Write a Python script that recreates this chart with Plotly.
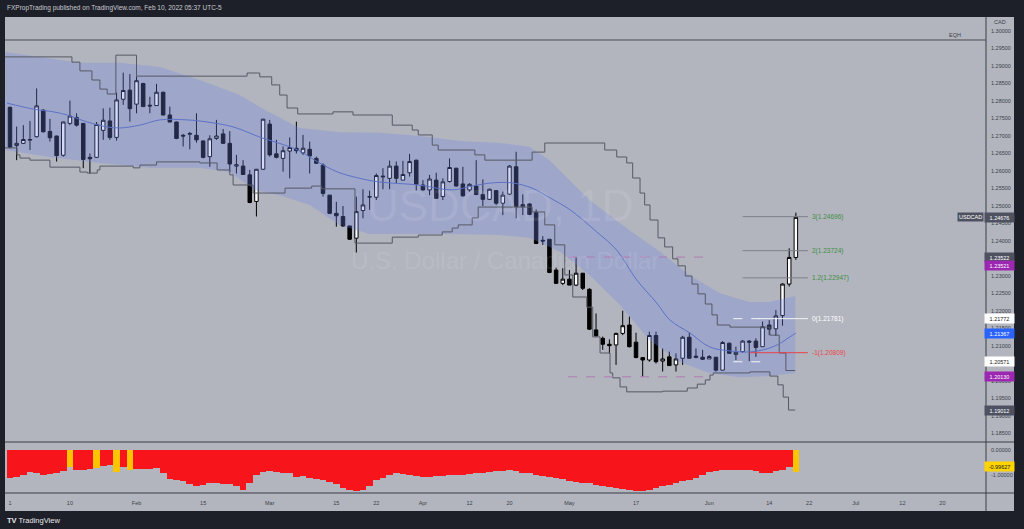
import plotly.graph_objects as go

# ---------------- DATA ----------------
bar_idx = list(range(119))
open_ = [1.2782,1.2673,1.2679,1.2688,1.2698,1.2774,1.2713,1.2700,1.2645,1.2736,
         1.2753,1.2736,1.2639,1.2639,1.2716,1.2743,1.2696,1.2805,1.2831,1.2791,
         1.2850,1.2788,1.2787,1.2825,1.2760,1.2740,1.2702,1.2705,1.2702,1.2686,
         1.2641,1.2693,1.2706,1.2679,1.2614,1.2614,1.2589,1.2513,1.2605,1.2734,
         1.2649,1.2636,1.2657,1.2665,1.2652,1.2662,1.2636,1.2617,1.2531,1.2479,
         1.2470,1.2443,1.2408,1.2487,1.2525,1.2525,1.2583,1.2579,1.2614,1.2574,
         1.2595,1.2631,1.2560,1.2546,1.2574,1.2527,1.2570,1.2608,1.2563,1.2546,
         1.2557,1.2533,1.2519,1.2544,1.2508,1.2534,1.2612,1.2498,1.2506,1.2482,
         1.2402,1.2405,1.2317,1.2279,1.2291,1.2274,1.2308,1.2262,1.2146,1.2122,
         1.2105,1.2103,1.2136,1.2160,1.2111,1.2067,1.2060,1.2130,1.2057,1.2069,
         1.2046,1.2065,1.2125,1.2067,1.2068,1.2063,1.2068,1.2031,1.2108,1.2076,
         1.2084,1.2114,1.2114,1.2098,1.2160,1.2149,1.2187,1.2277,1.2353]
high = [1.2784,1.2727,1.2731,1.2743,1.2836,1.2776,1.2749,1.2701,1.2741,1.2801,
        1.2765,1.2737,1.2650,1.2740,1.2779,1.2781,1.2824,1.2881,1.2877,1.2870,
        1.2852,1.2812,1.2849,1.2827,1.2784,1.2741,1.2706,1.2712,1.2765,1.2687,
        1.2702,1.2746,1.2720,1.2714,1.2646,1.2631,1.2603,1.2606,1.2749,1.2746,
        1.2689,1.2670,1.2696,1.2741,1.2703,1.2684,1.2641,1.2622,1.2532,1.2512,
        1.2500,1.2443,1.2527,1.2548,1.2544,1.2593,1.2608,1.2630,1.2627,1.2629,
        1.2649,1.2632,1.2574,1.2589,1.2595,1.2579,1.2636,1.2609,1.2612,1.2565,
        1.2631,1.2576,1.2549,1.2545,1.2541,1.2617,1.2655,1.2533,1.2507,1.2490,
        1.2414,1.2405,1.2324,1.2322,1.2317,1.2353,1.2308,1.2265,1.2193,1.2127,
        1.2119,1.2138,1.2201,1.2184,1.2138,1.2067,1.2141,1.2141,1.2093,1.2084,
        1.2079,1.2129,1.2138,1.2093,1.2089,1.2074,1.2068,1.2114,1.2110,1.2098,
        1.2117,1.2117,1.2122,1.2170,1.2174,1.2203,1.2279,1.2379,1.2481]
low = [1.2665,1.2631,1.2677,1.2660,1.2696,1.2710,1.2684,1.2627,1.2641,1.2731,
       1.2727,1.2608,1.2593,1.2638,1.2689,1.2689,1.2687,1.2789,1.2741,1.2765,
       1.2783,1.2765,1.2786,1.2759,1.2739,1.2691,1.2670,1.2662,1.2681,1.2636,
       1.2612,1.2689,1.2678,1.2598,1.2593,1.2589,1.2508,1.2470,1.2603,1.2641,
       1.2636,1.2598,1.2579,1.2650,1.2646,1.2593,1.2620,1.2527,1.2477,1.2441,
       1.2441,1.2403,1.2367,1.2465,1.2489,1.2517,1.2548,1.2548,1.2565,1.2574,
       1.2584,1.2544,1.2544,1.2531,1.2521,1.2517,1.2567,1.2556,1.2527,1.2541,
       1.2531,1.2500,1.2517,1.2503,1.2474,1.2531,1.2465,1.2474,1.2474,1.2391,
       1.2389,1.2308,1.2277,1.2274,1.2274,1.2271,1.2260,1.2146,1.2127,1.2089,
       1.2079,1.2046,1.2131,1.2096,1.2065,1.2012,1.2055,1.2050,1.2027,1.2044,
       1.2027,1.2046,1.2065,1.2065,1.2060,1.2063,1.2027,1.2030,1.2079,1.2060,
       1.2081,1.2057,1.2069,1.2098,1.2131,1.2129,1.2158,1.2270,1.2346]
close = [1.2668,1.2679,1.2690,1.2690,1.2786,1.2712,1.2695,1.2644,1.2740,1.2757,
         1.2731,1.2633,1.2635,1.2733,1.2745,1.2696,1.2803,1.2830,1.2778,1.2858,
         1.2784,1.2786,1.2825,1.2760,1.2740,1.2693,1.2700,1.2707,1.2689,1.2639,
         1.2692,1.2700,1.2679,1.2620,1.2618,1.2590,1.2510,1.2605,1.2748,1.2646,
         1.2639,1.2658,1.2667,1.2658,1.2665,1.2643,1.2622,1.2536,1.2479,1.2472,
         1.2443,1.2405,1.2484,1.2503,1.2527,1.2587,1.2585,1.2614,1.2579,1.2590,
         1.2627,1.2562,1.2546,1.2577,1.2522,1.2569,1.2610,1.2557,1.2529,1.2562,
         1.2533,1.2519,1.2548,1.2508,1.2531,1.2614,1.2498,1.2504,1.2476,1.2393,
         1.2400,1.2310,1.2279,1.2291,1.2274,1.2308,1.2265,1.2148,1.2129,1.2105,
         1.2101,1.2136,1.2158,1.2098,1.2067,1.2060,1.2130,1.2055,1.2063,1.2044,
         1.2063,1.2125,1.2065,1.2071,1.2062,1.2070,1.2031,1.2110,1.2079,1.2082,
         1.2114,1.2111,1.2096,1.2155,1.2148,1.2186,1.2277,1.2353,1.24676]

# moving average (traced)
ma_x = [-0.45,3.5,6.5,8.6,11.6,14.6,16.5,19.5,22.5,26.6,29.6,33.5,37.5,43.2,46.2,49.2,52.3,55.3,
        61.3,66.4,69.4,72.4,75.4,78.4,81.1,84.1,88.1,91.1,94.1,97.1,99.1,102.1,105.1,108.1,
        111.1,113.1,115.2,117.1,118]
ma_val = [1.2794,1.2777,1.2769,1.2760,1.2740,1.2726,1.2723,1.2731,1.2746,1.2746,1.2740,1.2726,
          1.2697,1.2660,1.2626,1.2597,1.2580,1.2569,1.2560,1.2546,1.2557,1.2566,1.2566,1.2551,
          1.2523,1.2489,1.2426,1.2374,1.2289,1.2223,1.2174,1.2137,1.2097,1.2086,1.2083,1.2089,
          1.2103,1.2126,1.2137]

# band envelope (traced)
band_up_x = [-0.75,4.5,10.5,16.5,22.5,28.5,34.5,38.3,43.5,49.5,55.5,61.5,67.6,73.6,78,81,84,87,
             90,93,97.6,102,106.6,111,114,117.9]
band_up = [1.2940,1.2926,1.2909,1.2909,1.2897,1.2860,1.2817,1.2774,1.2723,1.2711,1.2709,1.2700,
           1.2686,1.2680,1.2669,1.2631,1.2574,1.2517,1.2474,1.2431,1.2369,1.2303,1.2251,1.2226,
           1.2226,1.2243]
band_lo_x = [-0.75,6,13.5,21,28.5,33,36.8,40.5,45,49.5,54,58.6,66,73.6,78,82.6,87,91.6,96,100.6,
             105,109.6,114,117.9]
band_lo = [1.2660,1.2640,1.2623,1.2609,1.2609,1.2597,1.2546,1.2531,1.2503,1.2446,1.2420,1.2420,
           1.2420,1.2417,1.2409,1.2369,1.2303,1.2217,1.2117,1.2054,1.2023,1.2011,1.2014,1.2023]

# step channel lines (traced)
step_up_x = [-0.75,9.3,10.5,12.3,13.5,14.6,15.9,19,35.6,37.5,39.3,40.5,41.6,43.2,48.5,51.5,57.4,
             60.4,61.3,63.4,64.3,69.8,71.3,78.4,80.3,89.3,91.1,92.6,93.5,94.6,95.3,96.1,97.3,
             98.3,99.5,100.3,101.4,102.4,103.3,104.4,105.4,106.2,108.1,114.1,115.5,116.5,117.9]
step_up = [1.2926,1.2911,1.2886,1.2860,1.2834,1.2820,1.2931,1.2871,1.2880,1.2869,1.2846,1.2817,
           1.2780,1.2763,1.2769,1.2760,1.2731,1.2717,1.2703,1.2674,1.2660,1.2646,1.2631,1.2654,
           1.2680,1.2660,1.2640,1.2623,1.2580,1.2537,1.2503,1.2460,1.2409,1.2383,1.2349,1.2329,
           1.2300,1.2277,1.2249,1.2220,1.2189,1.2160,1.2154,1.2131,1.2080,1.2030,1.2030]
step_lo_x = [-0.75,1.05,1.5,3,6,10.5,11.6,13.1,13.5,18.5,19.5,22,28.5,31.1,33,33.5,36.5,41.3,45.3,
             46.8,51.8,57.4,61.3,64.9,66.4,67.3,69.4,70.3,78.4,80.3,81.8,83.3,84.5,86.6,87.5,
             88.6,90.1,90.5,91.6,92.6,98,101.7,103.2,104.4,105.1,105.6,111.1,114.1,115.3,116.1,
             116.9,117.9]
step_lo = [1.2666,1.2646,1.2637,1.2631,1.2611,1.2597,1.2594,1.2603,1.2614,1.2609,1.2617,1.2626,
           1.2623,1.2603,1.2589,1.2560,1.2537,1.2551,1.2557,1.2549,1.2394,1.2411,1.2417,1.2426,
           1.2437,1.2446,1.2466,1.2497,1.2483,1.2446,1.2389,1.2303,1.2240,1.2211,1.2126,1.2080,
           1.2023,1.2009,1.1983,1.1969,1.1971,1.1980,1.1991,1.2003,1.2017,1.2023,1.2026,1.2014,
           1.1989,1.1954,1.1917,1.1917]

# lower oscillator pane
osc = [-1.12,-1.07,-1.00,-0.87,-0.92,-1.00,-0.97,-0.93,-0.85,-0.67,
       -0.80,-0.78,-0.75,-0.72,-0.62,-0.60,-0.87,-0.67,-0.80,-0.76,
       -0.77,-0.75,-0.73,-0.90,-1.15,-1.20,-1.25,-1.35,-1.45,-1.40,
       -1.33,-1.30,-1.35,-1.36,-1.45,-1.60,-1.30,-1.00,-0.87,-0.85,
       -0.88,-0.90,-0.93,-1.07,-1.05,-1.10,-1.17,-1.20,-1.27,-1.35,
       -1.50,-1.60,-1.62,-1.60,-1.45,-1.20,-1.10,-1.00,-0.93,-0.95,
       -1.00,-1.05,-1.08,-1.08,-1.05,-1.02,-1.00,-1.00,-0.98,-0.95,
       -0.92,-0.90,-0.88,-0.85,-0.82,-0.80,-0.85,-0.90,-0.92,-0.98,
       -1.03,-1.07,-1.12,-1.17,-1.22,-1.27,-1.30,-1.32,-1.40,-1.45,
       -1.48,-1.52,-1.56,-1.60,-1.64,-1.62,-1.58,-1.52,-1.45,-1.38,
       -1.30,-1.25,-1.20,-1.10,-1.00,-0.88,-0.84,-0.80,-0.80,-0.80,
       -0.80,-0.80,-0.85,-0.90,-0.92,-0.85,-0.80,-0.68,-0.87]
osc_flag_bars = [9, 13, 16, 18, 118]
osc_label_text, osc_label_pos = "-0.99627", -0.64

# fib / drawing levels
fib_levels = [1.24696, 1.23724, 1.22947, 1.21781, 1.20809]
fib_text = ["3(1.24696)", "2(1.23724)", "1.2(1.22947)", "0(1.21781)", "-1(1.20809)"]
fib_line_colors = ["#7d8089", "#7d8089", "#7d8089", "#f2f2f2", "#e8434a"]
fib_text_colors = ["#3f8e45", "#3f8e45", "#3f8e45", "#ffffff", "#e8434a"]
fib_start = [110, 110, 110, 112.5, 111.1]
fib_end = 119.8
dash_levels = [1.2354, 1.2012]
dash_start, dash_end = 83.8, 105.3
white_dash_levels = [1.21781, 1.2055]
white_dash_start, white_dash_end = 108.6, 113.8
eqh_level = 1.29743

axis_label_text = ["1.24676", "1.23522", "1.23521", "1.21772", "1.21367", "1.20571", "1.20130", "1.19012"]
axis_label_pos = [1.24676, 1.23520, 1.23290, 1.21772, 1.21367, 1.20571, 1.20130, 1.19170]
axis_label_bg = ["#4e5260", "#4e5260", "#9c27b0", "#ffffff", "#2962ff", "#ffffff", "#9c27b0", "#4e5260"]
axis_label_fg = ["#ffffff", "#ffffff", "#ffffff", "#131722", "#ffffff", "#131722", "#ffffff", "#ffffff"]

tick_bars = [0, 9, 19, 29, 39, 49, 55, 62, 69, 75, 84, 94, 105, 114, 120, 127, 134, 140]
tick_text = ["1", "10", "Feb", "15", "Mar", "15", "22", "Apr", "12", "20", "May", "17", "Jun",
             "14", "22", "Jul", "12", "20"]

# ---------------- LAYOUT HELPERS ----------------
W, H = 1024, 529
PX0, PX1, PY0, PY1 = 5, 986, 17, 493
def px(x): return (x - PX0) / (PX1 - PX0)
def py(y): return (PY1 - y) / (PY1 - PY0)

BG = "#b2b5be"
DARK = "#1e2029"
LINE = "#3a3d46"
FONT = "Liberation Sans, Arial, sans-serif"

fig = go.Figure()

fig.add_trace(go.Scatter(
    x=band_up_x + band_lo_x[::-1], y=band_up + band_lo[::-1],
    fill="toself", fillcolor="rgba(112,132,232,0.30)", mode="lines",
    line=dict(width=0), hoverinfo="skip", showlegend=False))

fig.add_trace(go.Scatter(x=step_up_x, y=step_up, mode="lines", line=dict(color="#565964", width=1, shape="hv"),
                         hoverinfo="skip", showlegend=False))
fig.add_trace(go.Scatter(x=step_lo_x, y=step_lo, mode="lines", line=dict(color="#565964", width=1, shape="hv"),
                         hoverinfo="skip", showlegend=False))

fig.add_trace(go.Scatter(x=ma_x, y=ma_val, mode="lines", line=dict(color="#5d72c6", width=1, shape="spline"),
                         hoverinfo="skip", showlegend=False))

fig.add_trace(go.Candlestick(
    x=bar_idx, open=open_, high=high, low=low, close=close,
    increasing=dict(line=dict(color="#000000", width=1), fillcolor="#ffffff"),
    decreasing=dict(line=dict(color="#000000", width=1), fillcolor="#000000"),
    whiskerwidth=0, showlegend=False, hoverinfo="skip"))

osc_colors = ["#ffc400" if i in osc_flag_bars else "#f7141a" for i in bar_idx]
fig.add_trace(go.Bar(x=bar_idx, y=osc, marker=dict(color=osc_colors, line=dict(width=0)),
                     width=1.0, yaxis="y2", showlegend=False, hoverinfo="skip"))

shapes = []
shapes.append(dict(type="rect", xref="paper", yref="paper", x0=px(5), x1=px(1014), y0=py(511), y1=py(17),
                   fillcolor=BG, line=dict(width=0), layer="below"))
shapes.append(dict(type="line", xref="paper", yref="paper", x0=px(986), x1=px(986), y0=py(511), y1=py(17),
                   line=dict(color=LINE, width=1)))
shapes.append(dict(type="line", xref="paper", yref="paper", x0=px(5), x1=px(1014), y0=py(442), y1=py(442),
                   line=dict(color=LINE, width=1)))
shapes.append(dict(type="line", xref="paper", yref="paper", x0=px(5), x1=px(1014), y0=py(493), y1=py(493),
                   line=dict(color=LINE, width=1)))
shapes.append(dict(type="line", xref="paper", yref="y", x0=0, x1=1, y0=eqh_level, y1=eqh_level,
                   line=dict(color="#4a4d56", width=1)))
for lv in dash_levels:
    shapes.append(dict(type="line", xref="x", yref="y", x0=dash_start, x1=dash_end, y0=lv, y1=lv,
                       line=dict(color="#b07bb3", width=1, dash="dash")))
for lv in white_dash_levels:
    shapes.append(dict(type="line", xref="x", yref="y", x0=white_dash_start, x1=white_dash_end, y0=lv, y1=lv,
                       line=dict(color="#f5f5f5", width=1, dash="dash")))
for lv, c, s in zip(fib_levels, fib_line_colors, fib_start):
    shapes.append(dict(type="line", xref="x", yref="y", x0=s, x1=fib_end, y0=lv, y1=lv,
                       line=dict(color=c, width=1)))

ann = []
ann.append(dict(xref="paper", yref="paper", x=px(5), y=py(8), xanchor="left", yanchor="middle",
                text="FXPropTrading published on TradingView.com, Feb 10, 2022 05:37 UTC-5",
                showarrow=False, font=dict(family=FONT, size=6.5, color="#c9cbd1")))
ann.append(dict(xref="paper", yref="paper", x=px(5), y=py(520), xanchor="left", yanchor="middle",
                text="<b>TV</b> TradingView", showarrow=False, font=dict(family=FONT, size=7.5, color="#e6e7ea")))
ann.append(dict(xref="paper", yref="paper", x=px(1000), y=py(22), xanchor="center", yanchor="middle",
                text="CAD", showarrow=False, font=dict(family=FONT, size=5.5, color="#3c3f48")))
ann.append(dict(xref="paper", yref="y", x=px(955), y=eqh_level, xanchor="center", yanchor="bottom",
                text="EQH", showarrow=False, font=dict(family=FONT, size=5.5, color="#3c3f48")))
ann.append(dict(xref="paper", yref="paper", x=px(500), y=py(205), xanchor="center", yanchor="middle",
                text="USDCAD, 1D", showarrow=False, font=dict(family=FONT, size=44, color="rgba(255,255,255,0.10)")))
ann.append(dict(xref="paper", yref="paper", x=px(505), y=py(260), xanchor="center", yanchor="middle",
                text="U.S. Dollar / Canadian Dollar", showarrow=False,
                font=dict(family=FONT, size=24, color="rgba(255,255,255,0.10)")))
for lv, t, c in zip(fib_levels, fib_text, fib_text_colors):
    ann.append(dict(xref="x", yref="y", x=fib_end + 0.3, y=lv, xanchor="left", yanchor="middle",
                    text=t, showarrow=False, font=dict(family=FONT, size=6.5, color=c)))
ann.append(dict(xref="paper", yref="y", x=px(984), y=close[-1], xanchor="right", yanchor="middle",
                text="USDCAD", showarrow=False, bgcolor="#4e5260", font=dict(family=FONT, size=5.5, color="#ffffff"),
                borderpad=1))
for t, p, bg, fg in zip(axis_label_text, axis_label_pos, axis_label_bg, axis_label_fg):
    ann.append(dict(xref="paper", yref="y", x=px(1000), y=p, xanchor="center", yanchor="middle",
                    text=t, showarrow=False, bgcolor=bg, width=27, height=7,
                    font=dict(family=FONT, size=5.5, color=fg)))
ann.append(dict(xref="paper", yref="y2", x=px(1000), y=osc_label_pos, xanchor="center", yanchor="middle",
                text=osc_label_text, showarrow=False, bgcolor="#ffd400", width=27, height=7,
                font=dict(family=FONT, size=5.5, color="#131722")))

fig.update_layout(
    width=W, height=H, margin=dict(l=PX0, r=W - PX1, t=PY0, b=H - PY1),
    paper_bgcolor=DARK, plot_bgcolor=BG, showlegend=False, bargap=0, boxgap=0.25,
    font=dict(family=FONT), hovermode=False,
    xaxis=dict(range=[-0.75, 146.55], anchor="y2", showgrid=False, zeroline=False,
               tickvals=tick_bars, ticktext=tick_text, ticks="", tickfont=dict(size=5.5, color="#3c3f48"),
               rangeslider=dict(visible=False), showline=False, fixedrange=True, ticklabelstandoff=5),
    yaxis=dict(domain=[py(442), 1], range=[1.18257, 1.30400], side="right", anchor="x",
               showgrid=False, zeroline=False, tickformat=".5f", dtick=0.005, tick0=1.185,
               tickfont=dict(size=5.5, color="#3c3f48"), ticks="", ticklabelstandoff=4),
    yaxis2=dict(domain=[0, py(443)], range=[-1.72, 0.28], side="right", anchor="x",
                showgrid=False, zeroline=False, tickvals=[0, -1], ticktext=["0.00000", "-1.00000"],
                tickfont=dict(size=5.5, color="#3c3f48"), ticks="", ticklabelstandoff=4),
    shapes=shapes, annotations=ann,
)

fig.write_html("out.html", config={"displayModeBar": False},
               post_script="document.body.style.margin='0px';document.body.style.overflow='hidden';")
